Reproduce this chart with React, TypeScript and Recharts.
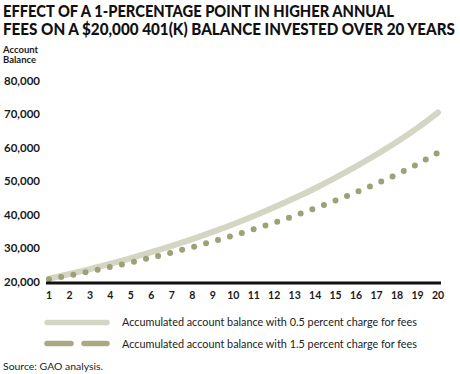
import { LineChart, Line, XAxis, YAxis } from "recharts";

const years = [1, 2, 3, 4, 5, 6, 7, 8, 9, 10, 11, 12, 13, 14, 15, 16, 17, 18, 19, 20];
const lowFeeBalance = [
  21300, 22700, 24150, 25750, 27400, 29200, 31100, 33100, 35250, 37550,
  40000, 42600, 45350, 48300, 51450, 54800, 58350, 62150, 66300, 70900,
];
const highFeeBalance = [
  21100, 22250, 23500, 24800, 26150, 27600, 29100, 30700, 32400, 34150,
  36050, 38000, 40100, 42300, 44650, 47100, 49700, 52450, 55500, 58900,
];
const yTicks = [20000, 30000, 40000, 50000, 60000, 70000, 80000];
const titleLines = [
  "EFFECT OF A 1-PERCENTAGE POINT IN HIGHER ANNUAL",
  "FEES ON A $20,000 401(K) BALANCE INVESTED OVER 20 YEARS",
];
const legendLabels = [
  "Accumulated account balance with 0.5 percent charge for fees",
  "Accumulated account balance with 1.5 percent charge for fees",
];

const LIGHT = "#d5d5c3";
const OLIVE = "#9ea175";
const FONT = "Lato, 'Liberation Sans', sans-serif";

const data = years.map((y, i) => ({
  year: y,
  low: lowFeeBalance[i],
  high: highFeeBalance[i],
}));

const YTick = ({ y, payload }: any) => (
  <text x={4} y={y + 2.5} textAnchor="start" fontSize={10.5} fontWeight={700} fill="#1a1a1a" fontFamily={FONT}
    textLength={36} lengthAdjust="spacingAndGlyphs">
    {payload.value.toLocaleString("en-US")}
  </text>
);

const XTick = ({ x, payload }: any) => (
  <text x={x} y={299} textAnchor="middle" fontSize={10.5} fontWeight={700} fill="#1a1a1a" fontFamily={FONT}>
    {payload.value}
  </text>
);

export default function App() {
  return (
    <div style={{ position: "absolute", left: 0, top: 0, width: 460, height: 374, background: "#fff" }}>
      <LineChart width={460} height={374} data={data} margin={{ top: 82, right: 19, bottom: 71, left: 4 }}>
        <XAxis
          dataKey="year"
          type="number"
          domain={[1, 20]}
          ticks={years}
          interval={0}
          padding={{ left: 3, right: 3 }}
          height={20}
          axisLine={{ stroke: "#111", strokeWidth: 3 }}
          tickLine={false}
          tick={<XTick />}
        />
        <YAxis
          width={42}
          domain={[20000, 80000]}
          ticks={yTicks}
          interval={0}
          axisLine={false}
          tickLine={false}
          tick={<YTick />}
        />
        <Line
          dataKey="low"
          type="monotone"
          stroke={LIGHT}
          strokeWidth={6}
          strokeLinecap="round"
          dot={false}
          isAnimationActive={false}
        />
        <Line
          dataKey="high"
          type="monotone"
          stroke={OLIVE}
          strokeWidth={6}
          strokeLinecap="round"
          strokeDasharray="0 12.4"
          dot={false}
          isAnimationActive={false}
        />
      </LineChart>
      <svg width={460} height={374} style={{ position: "absolute", left: 0, top: 0, pointerEvents: "none" }}>
        <text x={3} y={17} fontSize={17} fontWeight={900} fill="#111" fontFamily={FONT} textLength={391} lengthAdjust="spacingAndGlyphs">
          {titleLines[0]}
        </text>
        <text x={3} y={35} fontSize={17} fontWeight={900} fill="#111" fontFamily={FONT} textLength={452} lengthAdjust="spacingAndGlyphs">
          {titleLines[1]}
        </text>
        <text x={3} y={53} fontSize={9.5} fontWeight={700} fill="#1a1a1a" fontFamily={FONT}>Account</text>
        <text x={3} y={63} fontSize={9.5} fontWeight={700} fill="#1a1a1a" fontFamily={FONT}>Balance</text>
        <line x1={47} y1={322.5} x2={107} y2={322.5} stroke={LIGHT} strokeWidth={5.5} strokeLinecap="round" />
        <line x1={47} y1={343.5} x2={71} y2={343.5} stroke="#a9a985" strokeWidth={5.5} strokeLinecap="round" />
        <line x1={84} y1={343.5} x2={107} y2={343.5} stroke="#a9a985" strokeWidth={5.5} strokeLinecap="round" />
        <text x={122} y={326} fontSize={10.5} fill="#222" fontFamily={FONT} textLength={295} lengthAdjust="spacingAndGlyphs">
          {legendLabels[0]}
        </text>
        <text x={122} y={348} fontSize={10.5} fill="#222" fontFamily={FONT} textLength={295} lengthAdjust="spacingAndGlyphs">
          {legendLabels[1]}
        </text>
        <text x={3} y={370} fontSize={10} fill="#222" fontFamily={FONT} textLength={100} lengthAdjust="spacingAndGlyphs">
          Source: GAO analysis.
        </text>
      </svg>
    </div>
  );
}
